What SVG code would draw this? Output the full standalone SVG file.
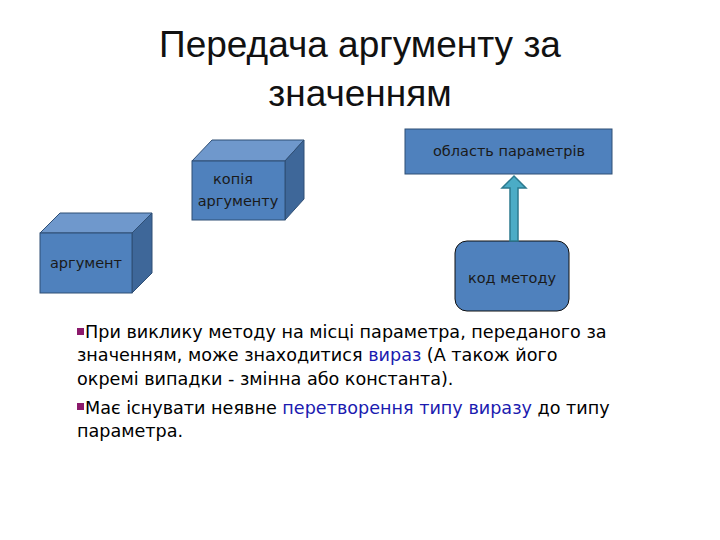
<svg xmlns="http://www.w3.org/2000/svg" width="720" height="540" viewBox="0 0 720 540">
<style>
.f{fill:#4F81BD;stroke:#2f4f75;stroke-width:1}
.t{fill:#6f98cc;stroke:#2f4f75;stroke-width:1}
.s{fill:#3e6799;stroke:#2f4f75;stroke-width:1}
.lbl{font-family:"DejaVu Sans",sans-serif;font-size:14.5px;fill:#1a1a1a}
.body{font-family:"DejaVu Sans",sans-serif;font-size:17.6px;fill:#000}
.hl{fill:#1b1bb0}
.b{fill:#8b1a6b}
</style>
<rect width="720" height="540" fill="#fff"/>
<g id="title" font-family="Liberation Sans,sans-serif" font-size="37" fill="#111" text-anchor="middle">
<text x="360" y="57">Передача аргументу за</text>
<text x="360" y="106">значенням</text>
</g>
<g id="arg">
<polygon class="t" points="40,233 60,213 152,213 132,233"/>
<polygon class="s" points="132,233 152,213 152,273 132,293"/>
<rect class="f" x="40" y="233" width="92" height="60"/>
<text class="lbl" x="86" y="268" text-anchor="middle">аргумент</text>
</g>
<g id="copy">
<polygon class="t" points="192,161 212,140 304,140 285,161"/>
<polygon class="s" points="285,161 304,140 304,199 285,220"/>
<rect class="f" x="192" y="161" width="93" height="59"/>
<text class="lbl" x="233" y="184" text-anchor="middle">копія</text>
<text class="lbl" x="238" y="206" text-anchor="middle">аргументу</text>
</g>
<g id="params">
<rect class="f" x="405" y="129" width="207" height="45" stroke="none"/>
<text class="lbl" x="509" y="156" text-anchor="middle">область параметрів</text>
</g>
<g id="code">
<rect x="455" y="241" width="114" height="70" rx="12" fill="#4F81BD" stroke="#111" stroke-width="1"/>
<text class="lbl" x="512" y="283" text-anchor="middle">код методу</text>
</g>
<g id="connectors">
<polygon points="510,241 510,188 502,188 514,176 526,188 518,188 518,241" fill="#4bacc6" stroke="#2c7a8f" stroke-width="1.5"/>
</g>
<g id="text">
<rect class="b" x="77" y="328" width="7" height="7"/>
<text class="body" x="85" y="338">При виклику методу на місці параметра, переданого за</text>
<text class="body" x="77" y="361">значенням, може знаходитися <tspan class="hl">вираз</tspan> (А також його</text>
<text class="body" x="77" y="385">окремі випадки - змінна або константа).</text>
<rect class="b" x="77" y="403" width="7" height="7"/>
<text class="body" x="85" y="414">Має існувати неявне <tspan class="hl">перетворення типу виразу</tspan> до типу</text>
<text class="body" x="77" y="437">параметра.</text>
</g>
</svg>
